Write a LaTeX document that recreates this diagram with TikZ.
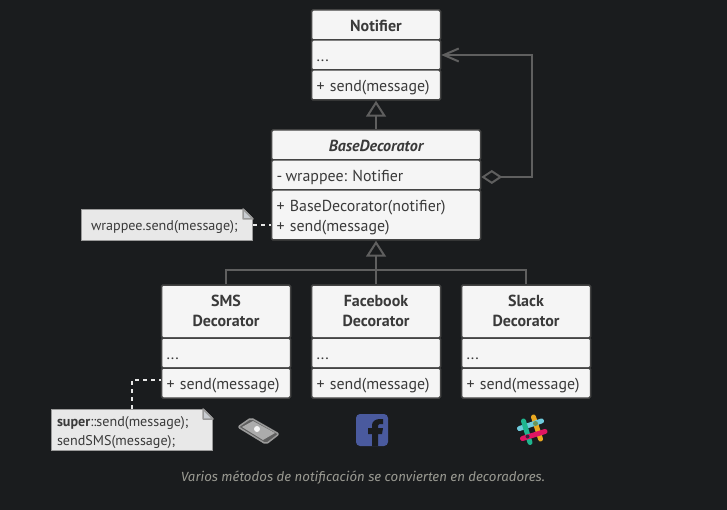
\documentclass[tikz,border=0pt]{standalone}
\usepackage{fontspec}
\setmainfont{PT Sans}
\newfontfamily\captionfont{Fira Sans}
\usetikzlibrary{arrows.meta}
\definecolor{pagebg}{HTML}{1A1C1E}
\definecolor{boxfill}{HTML}{F5F5F5}
\definecolor{boxline}{HTML}{444444}
\definecolor{boxtext}{HTML}{3A3A3A}
\definecolor{wireline}{HTML}{5F5F5F}
\definecolor{notefill}{HTML}{E8E8E8}
\definecolor{noteline}{HTML}{9A9A9A}
\definecolor{notefold}{HTML}{C9CDD2}
\definecolor{captext}{HTML}{9A9A92}
\definecolor{fbblue}{HTML}{4A5A9E}
\tikzset{
  cell/.style={draw=boxline, line width=1.5pt, fill=boxfill, rounded corners=1.5pt, text=boxtext,
    font=\fontsize{15.9}{20}\selectfont, align=left, inner sep=0pt, text height=15.5pt, text depth=3pt},
  titlecell/.style={cell, align=center, font=\fontsize{16}{20}\selectfont\bfseries},
  twolines/.style={text height=14pt, text depth=21.5pt},
  titlelines/.style={text height=36pt, text depth=5.6pt},
  memo/.style={draw=noteline, line width=1.5pt, fill=notefill, text=boxtext, inner sep=0pt, align=left,
    font=\fontsize{14.1}{19}\selectfont, text height=14pt, text depth=3pt},
  wire/.style={draw=wireline, line width=2pt},
  inherit/.style={wire, -{Triangle[open, length=16pt, width=20pt, fill=pagebg]}},
  dotted link/.style={draw=notefill, line width=2pt, dash pattern=on 4pt off 4pt},
}
\begin{document}
\frenchspacing
\begin{tikzpicture}[x=1pt, y=-1pt]
    \useasboundingbox[fill=pagebg] (0,0) rectangle (727,510);

    % Notifier
    \node[titlecell, minimum width=129pt, minimum height=30pt] (notifiertitle) at (376,25) {Notifier};
    \node[cell, minimum width=129pt, minimum height=30pt, text width=119pt] (notifierfields) at (376,55) {...};
    \node[cell, minimum width=129pt, minimum height=30pt, text width=119pt] (notifiermethods) at (376,85) {+ send(message)};

    % BaseDecorator
    \node[titlecell, minimum width=209pt, minimum height=30pt, font=\fontsize{16}{20}\selectfont\bfseries\itshape] (basetitle) at (376,145) {BaseDecorator};
    \node[cell, minimum width=209pt, minimum height=30pt, text width=199pt] (basefields) at (376,175) {-\kern-2pt{} wrappee: Notifier};
    \node[cell, twolines, minimum width=209pt, minimum height=50pt, text width=199pt] (basemethods) at (376,215) {+ BaseDecorator(notifier)\\+ send(message)};

    % Decorators
    \node[titlecell, titlelines, minimum width=129pt, minimum height=53pt] (smstitle) at (226,311.5) {SMS\\Decorator};
    \node[cell, minimum width=129pt, minimum height=30pt, text width=119pt] (smsfields) at (226,353) {...};
    \node[cell, minimum width=129pt, minimum height=30pt, text width=119pt] (smsmethods) at (226,383) {+ send(message)};
    \node[titlecell, titlelines, minimum width=129pt, minimum height=53pt] (facebooktitle) at (376,311.5) {Facebook\\Decorator};
    \node[cell, minimum width=129pt, minimum height=30pt, text width=119pt] (facebookfields) at (376,353) {...};
    \node[cell, minimum width=129pt, minimum height=30pt, text width=119pt] (facebookmethods) at (376,383) {+ send(message)};
    \node[titlecell, titlelines, minimum width=129pt, minimum height=53pt] (slacktitle) at (526,311.5) {Slack\\Decorator};
    \node[cell, minimum width=129pt, minimum height=30pt, text width=119pt] (slackfields) at (526,353) {...};
    \node[cell, minimum width=129pt, minimum height=30pt, text width=119pt] (slackmethods) at (526,383) {+ send(message)};

    % Notes
    \node[memo, minimum width=171pt, minimum height=31pt, text width=152pt] (basememo) at (167,225) {wrappee.send(message);};
    \fill[pagebg] (243,208) -- (254,208) -- (254,219) -- cycle;
    \filldraw[fill=notefold, draw=noteline, line width=1.5pt, line join=round] (243,209) -- (253,219) -- (243,219) -- cycle;
    \node[memo, text height=13pt, text depth=21pt, minimum width=161pt, minimum height=41pt, text width=150pt] (smsmemo) at (132,430) {\textbf{super}::send(message);\\sendSMS(message);};
    \fill[pagebg] (203,408) -- (214,408) -- (214,419) -- cycle;
    \filldraw[fill=notefold, draw=noteline, line width=1.5pt, line join=round] (203,409) -- (213,419) -- (203,419) -- cycle;

    % Edges
    \draw[inherit] (basetitle.north) -- (notifiermethods.south);
    \coordinate (treejoin) at (376,270);
    \draw[wire] (smstitle.north) |- (treejoin);
    \draw[wire] (slacktitle.north) |- (treejoin);
    \draw[inherit] (facebooktitle.north) -- (basemethods.south);
    \coordinate (loopcorner) at (532,177);
    \draw[wire, {Diamond[open, length=21pt, width=14pt, fill=pagebg]}-{Straight Barb[length=15pt, width=13pt]}]
      (basefields.east |- loopcorner) -- (loopcorner) |- (notifierfields.east);
    \draw[dotted link] (basememo.east) -- (basememo.east -| basemethods.west);
    \coordinate (smscorner) at (132,380);
    \draw[dotted link] (smsmemo.north -| smscorner) -- (smscorner) -- (smscorner -| smsmethods.west);

    % Phone
    \filldraw[fill=wireline, draw=noteline, line width=1.5pt, line join=round, rounded corners=2pt] (238,427) -- (251,418) -- (279,434) -- (266,444) -- cycle;
    \fill[fill=noteline!80!boxfill] (242,427) -- (253,421) -- (275,433) -- (263,440) -- cycle;
    \fill[fill=boxfill] (257,429) circle (3pt);

    % Facebook
    \fill[fbblue, rounded corners=4pt] (356,414) rectangle (388,446);
    \fill[pagebg] (372,446) -- (372,434) -- (368,434) -- (368,428) -- (372,428) -- (372,425)
      .. controls (372,421) and (376,419) .. (380,419) -- (383,419) -- (383,424) -- (380,424)
      .. controls (379,424) and (378,425) .. (378,426) -- (378,428) -- (383,428) -- (382,434) -- (378,434) -- (378,446) -- cycle;

    % Slack
    \begin{scope}[line width=5pt, line cap=round]
      \draw[color={rgb,255:red,233;green,168;blue,32}] (533.5,417) -- (540.5,439);
      \draw[color={rgb,255:red,110;green,202;blue,220}] (519.5,428.5) -- (541.5,421);
      \draw[color={rgb,255:red,31;green,181;blue,143}] (523.5,421) -- (530,442.5);
      \draw[color={rgb,255:red,224;green,21;blue,99}] (522.5,438.5) -- (545,431.5);
      \fill[color={rgb,255:red,106;green,150;blue,90}] (535.5,423.5) circle (2.5pt);
      \fill[color={rgb,255:red,60;green,30;blue,60}] (527.5,436.5) circle (2pt);
    \end{scope}

    \node[text=captext, font=\captionfont\fontsize{13.25}{16}\selectfont\itshape] (figcaption) at (363,478) {Varios métodos de notificación se convierten en decoradores.};
\end{tikzpicture}
\end{document}
